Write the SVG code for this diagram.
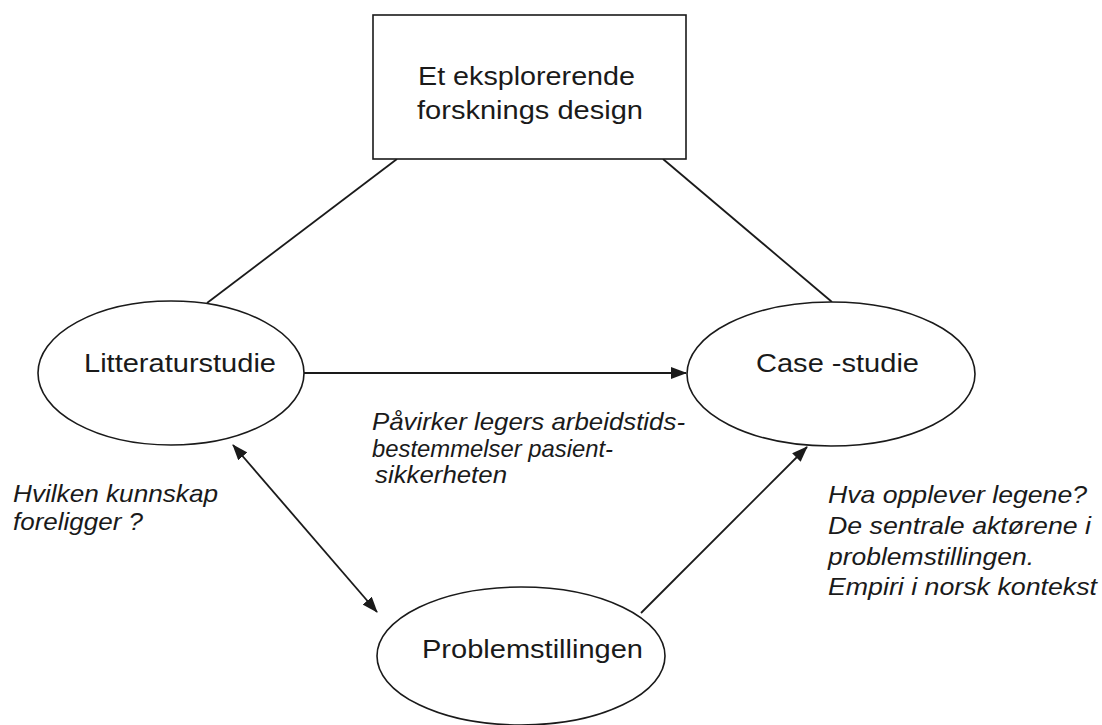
<svg xmlns="http://www.w3.org/2000/svg" width="1102" height="725" viewBox="0 0 1102 725">
<defs>
<style>
.shape{fill:#fff;stroke:#1a1a1a;stroke-width:1.6}
.conn{stroke:#1a1a1a;stroke-width:1.8;fill:none}
.node{font-family:"Liberation Sans",Arial,sans-serif;font-size:25px;fill:#1a1a1a}
.lbl{font-family:"Liberation Sans",Arial,sans-serif;font-size:24px;font-style:italic;fill:#1a1a1a}
</style>
<marker id="ah" markerWidth="16" markerHeight="12" refX="15" refY="6" orient="auto-start-reverse" markerUnits="userSpaceOnUse">
<path d="M0,0 L16,6 L0,12 Z" fill="#1a1a1a"/>
</marker>
</defs>
<rect width="1102" height="725" fill="#fff"/>
<g id="connectors">
<line class="conn" x1="397" y1="159" x2="207" y2="303"/>
<line class="conn" x1="663" y1="159" x2="832" y2="302"/>
<line class="conn" x1="304" y1="373" x2="686" y2="373" marker-end="url(#ah)"/>
<line class="conn" x1="233" y1="445" x2="377" y2="612" marker-start="url(#ah)" marker-end="url(#ah)"/>
<line class="conn" x1="641" y1="613" x2="807" y2="447" marker-end="url(#ah)"/>
</g>
<g id="node-design">
<rect class="shape" x="373" y="15" width="313" height="144"/>
<text class="node" x="418" y="85" textLength="217" lengthAdjust="spacingAndGlyphs">Et eksplorerende</text>
<text class="node" x="417" y="119" textLength="226" lengthAdjust="spacingAndGlyphs">forsknings design</text>
</g>
<g id="node-litteratur">
<ellipse class="shape" cx="171" cy="373" rx="133" ry="72"/>
<text class="node" x="84" y="372" textLength="192" lengthAdjust="spacingAndGlyphs">Litteraturstudie</text>
</g>
<g id="node-case">
<ellipse class="shape" cx="831" cy="374" rx="144" ry="72"/>
<text class="node" x="756" y="372" textLength="163" lengthAdjust="spacingAndGlyphs">Case -studie</text>
</g>
<g id="node-problem">
<ellipse class="shape" cx="521" cy="656" rx="144" ry="69"/>
<text class="node" x="422" y="658" textLength="221" lengthAdjust="spacingAndGlyphs">Problemstillingen</text>
</g>
<g id="labels">
<text class="lbl" x="13" y="502" textLength="205" lengthAdjust="spacingAndGlyphs">Hvilken kunnskap</text>
<text class="lbl" x="13" y="530" textLength="130" lengthAdjust="spacingAndGlyphs">foreligger ?</text>
<text class="lbl" x="372" y="430" textLength="313" lengthAdjust="spacingAndGlyphs">Påvirker legers arbeidstids-</text>
<text class="lbl" x="372" y="457" textLength="241" lengthAdjust="spacingAndGlyphs">bestemmelser pasient-</text>
<text class="lbl" x="375" y="483" textLength="132" lengthAdjust="spacingAndGlyphs">sikkerheten</text>
<text class="lbl" x="828" y="503" textLength="259" lengthAdjust="spacingAndGlyphs">Hva opplever legene?</text>
<text class="lbl" x="828" y="534" textLength="263" lengthAdjust="spacingAndGlyphs">De sentrale aktørene i</text>
<text class="lbl" x="828" y="565" textLength="206" lengthAdjust="spacingAndGlyphs">problemstillingen.</text>
<text class="lbl" x="828" y="595" textLength="269" lengthAdjust="spacingAndGlyphs">Empiri i norsk kontekst</text>
</g>
</svg>
